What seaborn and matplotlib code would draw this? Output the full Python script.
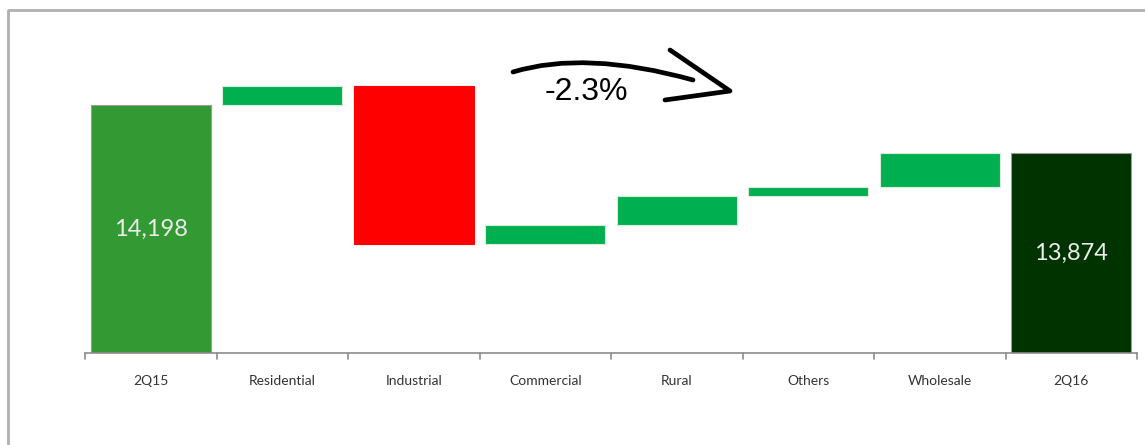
import numpy as np
import pandas as pd
import matplotlib
matplotlib.use("Agg")
import matplotlib.pyplot as plt
from matplotlib.path import Path
from matplotlib.patches import PathPatch
import seaborn as sns

categories = ['2Q15', 'Residential', 'Industrial', 'Commercial', 'Rural', 'Others', 'Wholesale', '2Q16']
start_total = 14198
changes = [130, -1072, 126, 200, 60, 232]
end_total = 13874
change_label = '-2.3%'

# waterfall geometry
steps = np.array(changes)
running = start_total + np.concatenate([[0], np.cumsum(steps)])
bottoms = [0] + [min(running[i], running[i + 1]) for i in range(len(steps))] + [0]
heights = [start_total] + list(np.abs(steps)) + [end_total]

colors = ['#339933'] + ['#00B050' if s > 0 else '#FF0000' for s in steps] + ['#003300']

df = pd.DataFrame({'category': categories, 'height': heights, 'bottom': bottoms})

sns.set_style('white')
plt.rcParams['font.family'] = ['Lato', 'DejaVu Sans']

fig = plt.figure(figsize=(11.45, 4.45), dpi=100)
ax = fig.add_axes([85 / 1145, 92 / 445, 1052 / 1145, 313 / 445])

sns.barplot(data=df, x='category', y='height', bottom=df['bottom'].values,
            width=0.91, color='#00B050', ax=ax)
for patch, c in zip(ax.patches, colors):
    patch.set_facecolor(c)
    patch.set_edgecolor('#d8ecd8' if c == '#00B050' else c)
    patch.set_linewidth(0.8)
ax.patches[0].set_edgecolor('#9a9a9a')
ax.patches[-1].set_edgecolor('#9a9a9a')

ymin = 12515
ax.set_ylim(ymin, ymin + 313 * 6.79)
ax.set_xlim(-0.5, len(categories) - 0.5)

# total labels inside first and last bars
for i, val in [(0, start_total), (len(categories) - 1, end_total)]:
    ax.text(i, (ymin + val) / 2, f'{val:,}', ha='center', va='center',
            color='#ececec', fontsize=17)

# axes styling
for side in ['top', 'right', 'left']:
    ax.spines[side].set_visible(False)
ax.spines['bottom'].set_color('#8c8c8c')
ax.spines['bottom'].set_linewidth(1.2)
ax.set_yticks([])
ax.set_xlabel('')
ax.set_ylabel('')
ax.set_xticks(np.arange(len(categories)))
ax.set_xticklabels(categories, fontsize=10, color='#333333')
ax.tick_params(axis='x', length=0, pad=16)
for b in np.arange(-0.5, len(categories), 1.0):
    ax.plot([b, b], [0, -0.018], transform=ax.get_xaxis_transform(),
            color='#8c8c8c', lw=1.2, clip_on=False)

# hand-drawn arrow and change label (figure pixel coordinates)
H = 445
def fp(x, y):
    return (x, H - y)

curve = Path([fp(513, 72), fp(585, 50), fp(693, 80)],
             [Path.MOVETO, Path.CURVE3, Path.CURVE3])
head = Path([fp(670, 50), fp(730, 91), fp(665, 100)],
            [Path.MOVETO, Path.LINETO, Path.LINETO])
for p in [curve, head]:
    fig.add_artist(PathPatch(p, transform=None, facecolor='none', edgecolor='black',
                             lw=3.4, capstyle='round', joinstyle='round'))
fig.text(586 / 1145, 1 - 92 / 445, change_label, ha='center', va='center',
         fontsize=23, family='Liberation Sans', color='black')

# outer frame (top and left only)
fig.add_artist(plt.Line2D([8 / 1145, 8 / 1145, 1.0], [0.0, 1 - 10 / 445, 1 - 10 / 445],
                          transform=fig.transFigure, color='#b0b0b0', lw=2))

fig.savefig('out.png', dpi=100)
